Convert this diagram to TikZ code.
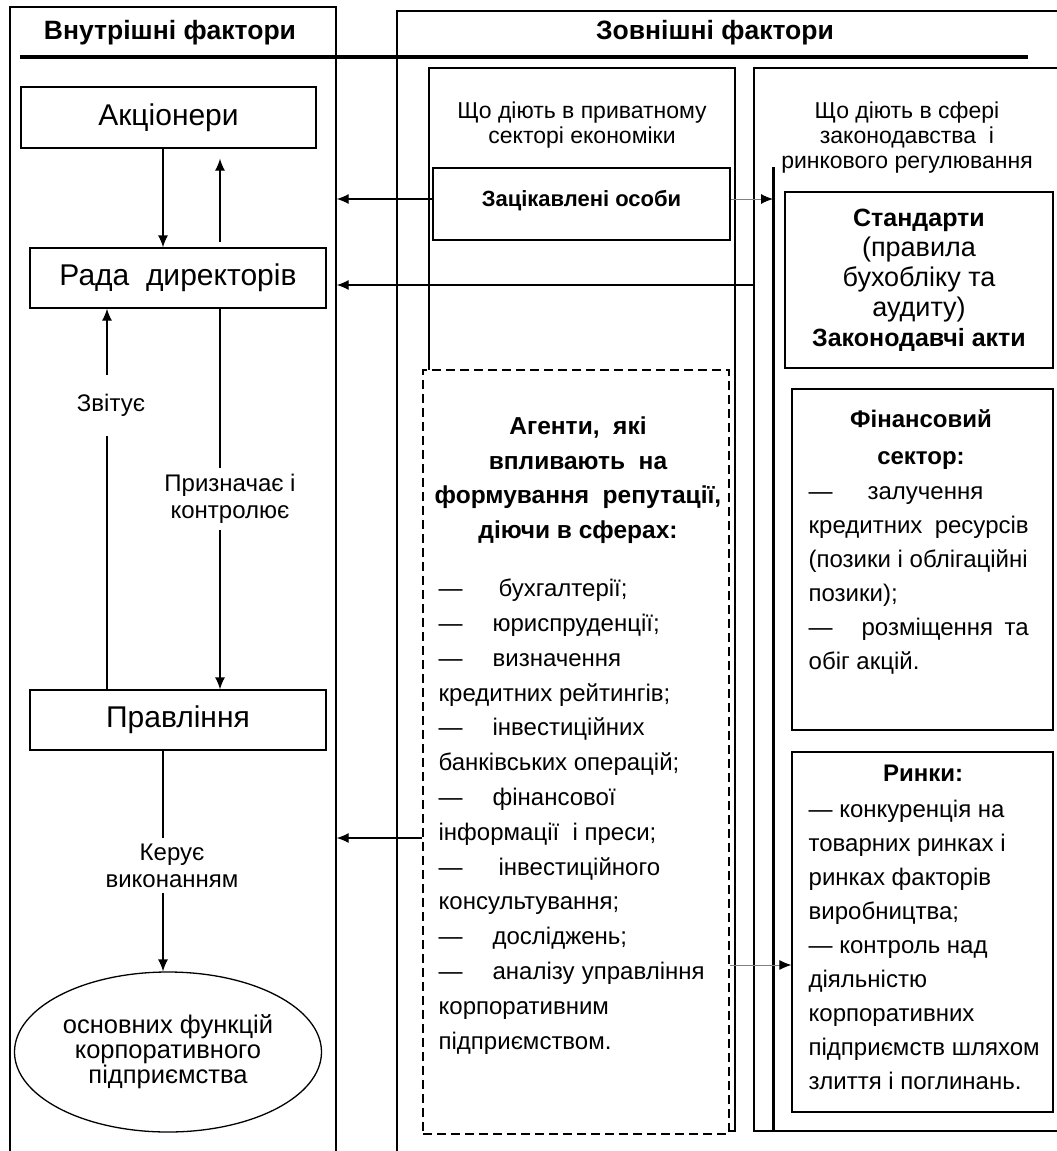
\documentclass[tikz,border=0pt]{standalone}
\usepackage{fontspec}
\setmainfont{Liberation Sans}
\usetikzlibrary{arrows.meta,shapes.geometric}

\newcommand{\fsz}[2]{\fontsize{#1}{#2}\selectfont}
\newcommand{\st}{\rule{0pt}{18pt}}
\newcommand{\dsh}[1]{\makebox[#1][l]{—}}

\begin{document}
\begin{tikzpicture}
  [
  x=1pt, y=-1pt, line width=1.3pt,
  frame/.style={rectangle, draw, inner sep=0pt},
  box/.style={rectangle, draw, inner sep=0pt, font=\fsz{30}{36}},
  ctxt/.style={inner sep=0pt, anchor=north, align=center},
  ltxt/.style={inner sep=0pt, anchor=north west, align=left, font=\fsz{24}{34}},
  lbl/.style={fill=white, align=center, inner xsep=2pt, inner ysep=6pt, font=\fsz{24}{27}},
  arr/.style={-{Latex[length=12pt,width=10pt]}},
  grayarr/.style={draw=black!50, line width=0.9pt, -{Latex[length=12pt,width=10pt,color=black]}}
  ]

\useasboundingbox (0,0) rectangle (1057,1151);

\node[frame, minimum width=326, minimum height=1163] (lbox) at (173,588.5) {};
\node[frame, minimum width=683, minimum height=1159] (rbox) at (738.5,590.5) {};
\node[frame, minimum width=306, minimum height=1063] (pbox) at (582,599.5) {};
\node[frame, minimum width=321, minimum height=1063] (gbox) at (914.5,599.5) {};
\node[frame, dashed, dash pattern=on 9pt off 5pt, fill=white, minimum width=306, minimum height=764] (dbox) at (576,752) {};

\node[font=\bfseries\fsz{26.5}{30}] (tin) at (170,33) {Внутрішні фактори};
\node[font=\bfseries\fsz{26.5}{30}] (tout) at (715,33) {Зовнішні фактори};
\draw[line width=3.5pt] (20,57) -- (1028,57);

\node[box, minimum width=295, minimum height=61] (akc) at (168.5,117.5) {Акціонери};
\node[box, minimum width=296, minimum height=60] (rada) at (178,278) {Рада~~директорів};
\node[box, minimum width=296, minimum height=60] (prav) at (178,720) {Правління};
\node[ellipse, draw, inner sep=0pt, minimum width=307, minimum height=160, align=center, font=\fsz{25.5}{25}] (fun) at (168,1052) {основних функцій\\корпоративного\\підприємства};

\coordinate (xa) at (163,0);
\coordinate (xb) at (220,0);
\coordinate (xc) at (107,0);

\draw[arr] (akc.south -| xa) -- (rada.north -| xa);
\draw[arr, shorten <=5pt, shorten >=10pt] (rada.north -| xb) -- (akc.south -| xb);
\draw[arr] (prav.north -| xc) -- node[lbl, pos=0.746, inner ysep=19pt, xshift=4pt] {Звітує} (rada.south -| xc);
\draw[arr] (rada.south -| xb) -- node[lbl, pos=0.5, xshift=10pt] {Призначає і\\контролює} (prav.north -| xb);
\draw[arr] (prav.south -| xa) -- node[lbl, pos=0.52, xshift=9pt] {Керує\\виконанням} (fun.north -| xa);

\node[ctxt, font=\fsz{23}{24.5}] (ptx) at (582,100) {\st Що діють в приватному\\секторі економіки};
\node[ctxt, font=\fsz{23}{25}] (gtx) at (907,100) {\st Що діють в сфері\\законодавства~~і\\ринкового регулювання};

\node[frame, minimum width=297, minimum height=72, text depth=12pt, font=\bfseries\fsz{22}{26}] (zo) at (581.5,204) {Зацікавлені особи};

\coordinate (vt) at (773,167);
\coordinate (vb) at (773,1131);
\draw[line width=3pt] (vt) -- (vb);

\node[frame, minimum width=268, minimum height=176, align=center, font=\fsz{27}{30}] (std) at (919,280)
  {{\bfseries\fontsize{25}{30}\selectfont Стандарти}\\(правила\\бухобліку та\\аудиту)\\{\bfseries\fontsize{25}{30}\selectfont Законодавчі акти}};

\node[frame, minimum width=261, minimum height=341] (fin) at (922.5,559.5) {};
\node[ctxt, font=\bfseries\fsz{24}{37}] (finh) at (921,409) {\st Фінансовий\\сектор:};
\node[ltxt] (finl) at (808,481)
  {\st\dsh{59pt}залучення\\
   \makebox[220pt][s]{кредитних ресурсів}\\
   (позики і облігаційні\\
   позики);\\
   \makebox[220pt][s]{\dsh{53pt}розміщення та}\\
   обіг акцій.};

\node[frame, minimum width=261, minimum height=360] (rin) at (922.5,932) {};
\node[font=\bfseries\fsz{24}{30}] (rinh) at (923,773) {Ринки:};
\node[ltxt] (rinl) at (808,799)
  {\st — конкуренція на\\
   товарних ринках і\\
   ринках факторів\\
   виробництва;\\
   — контроль над\\
   діяльністю\\
   корпоративних\\
   підприємств шляхом\\
   злиття і поглинань.};

\node[ctxt, font=\bfseries\fsz{24.5}{34.5}] (agh) at (578,416)
  {\st Агенти,~~які\\впливають~~на\\формування~~репутації,\\діючи в сферах:};
\node[ltxt, font=\fsz{24}{34.8}] (agl) at (438,578)
  {\st\dsh{60pt}бухгалтерії;\\
   \dsh{54pt}юриспруденції;\\
   \dsh{54pt}визначення\\
   кредитних рейтингів;\\
   \dsh{54pt}інвестиційних\\
   банківських операцій;\\
   \dsh{54pt}фінансової\\
   інформації~~і преси;\\
   \dsh{60pt}інвестиційного\\
   консультування;\\
   \dsh{54pt}досліджень;\\
   \makebox[266pt][s]{\dsh{54pt}аналізу управління}\\
   корпоративним\\
   підприємством.};

\draw[arr] ([yshift=5pt]zo.west) -- ([yshift=5pt]zo.west -| lbox.east);
\draw[arr] ([yshift=-7pt]rada.east -| gbox.west) -- ([yshift=-7pt]rada.east -| lbox.east);
\draw[arr] ([yshift=-86pt]dbox.west) -- ([yshift=-86pt]dbox.west -| lbox.east);
\draw[grayarr] ([yshift=5pt]zo.east) -- ([yshift=5pt]zo.east -| vt);
\draw[grayarr] ([yshift=-33pt]rin.west -| dbox.east) -- ([yshift=-33pt]rin.west);
\end{tikzpicture}
\end{document}
